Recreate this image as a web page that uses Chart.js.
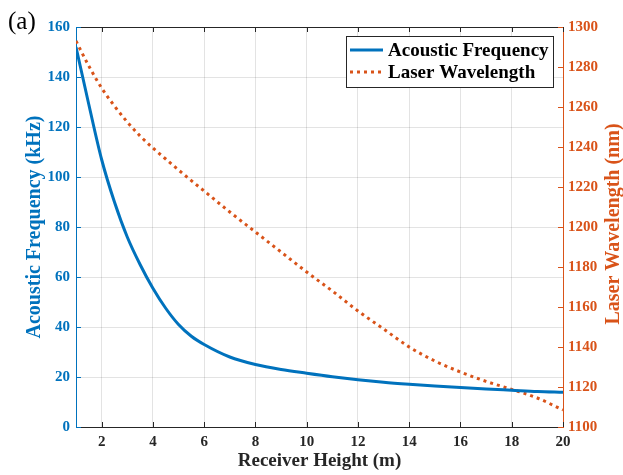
<!DOCTYPE html>
<html>
<head>
<meta charset="utf-8">
<script src="https://cdn.jsdelivr.net/npm/chart.js"></script>
<style>
  html, body { margin: 0; padding: 0; background: #fff; }
</style>
</head>
<body>
<canvas id="chart" width="623" height="475"></canvas>
<script>
// receiver heights (m) and the two series
const heights = [1, 1.5, 2, 2.5, 3, 3.5, 4, 4.5, 5, 5.5, 6, 7, 8, 9, 10, 11, 12, 13, 14, 15, 16, 17, 18, 19, 20];
const acousticFreq = [152, 129, 107, 90, 76, 65, 55.5, 47.5, 41, 36.3, 33, 28, 25, 23, 21.5, 20.1, 18.9, 17.9, 17.1, 16.4, 15.8, 15.2, 14.7, 14.2, 13.9];
const laserWavelength = [1293, 1280.5, 1269.5, 1260.5, 1252.5, 1245.5, 1239.5, 1234, 1228.5, 1223.2, 1218, 1207.5, 1197.5, 1187.5, 1177.5, 1168, 1158, 1149, 1140, 1133, 1127.5, 1122.8, 1118.8, 1114.5, 1108.5];
const xTicks = [2, 4, 6, 8, 10, 12, 14, 16, 18, 20];
const freqTicks = [0, 20, 40, 60, 80, 100, 120, 140, 160];
const waveTicks = [1100, 1120, 1140, 1160, 1180, 1200, 1220, 1240, 1260, 1280, 1300];

const BLUE = "#0072BD";
const ORANGE = "#D95319";
const DARK = "#262626";
const GRID = "rgba(38,38,38,0.13)";
const SERIF = "'Liberation Serif', 'Times New Roman', serif";

const toPoints = (ys) => heights.map((x, i) => ({ x: x, y: ys[i] }));

// inward ticks, top border, right title, legend box, panel label
const decorations = {
    id: "decorations",
    afterDraw(chart) {
        const ctx = chart.ctx;
        const a = chart.chartArea;
        const sx = chart.scales.x, sl = chart.scales.y, sr = chart.scales.y2;
        const len = 5;
        ctx.save();
        ctx.lineWidth = 1;
        ctx.strokeStyle = DARK;
        ctx.beginPath();
        ctx.moveTo(a.left, a.top + 0.5);
        ctx.lineTo(a.right, a.top + 0.5);
        xTicks.forEach((v) => {
            const px = Math.round(sx.getPixelForValue(v)) + 0.5;
            ctx.moveTo(px, a.bottom);
            ctx.lineTo(px, a.bottom - len);
            ctx.moveTo(px, a.top);
            ctx.lineTo(px, a.top + len);
        });
        ctx.stroke();
        ctx.strokeStyle = BLUE;
        ctx.beginPath();
        freqTicks.forEach((v) => {
            const py = Math.round(sl.getPixelForValue(v)) + 0.5;
            ctx.moveTo(a.left, py);
            ctx.lineTo(a.left + len, py);
        });
        ctx.stroke();
        ctx.strokeStyle = ORANGE;
        ctx.beginPath();
        waveTicks.forEach((v) => {
            const py = Math.round(sr.getPixelForValue(v)) + 0.5;
            ctx.moveTo(a.right, py);
            ctx.lineTo(a.right - len, py);
        });
        ctx.stroke();

        // right axis title, reading bottom to top
        ctx.save();
        ctx.translate(614, (a.top + a.bottom) / 2 - 3);
        ctx.rotate(-Math.PI / 2);
        ctx.fillStyle = ORANGE;
        ctx.font = "bold 20px " + SERIF;
        ctx.textAlign = "center";
        ctx.textBaseline = "middle";
        ctx.fillText("Laser Wavelength (nm)", 0, 0);
        ctx.restore();

        // legend
        const bx = 346, by = 36, bw = 207, bh = 51;
        ctx.fillStyle = "#fff";
        ctx.fillRect(bx, by, bw, bh);
        ctx.strokeStyle = DARK;
        ctx.strokeRect(bx + 0.5, by + 0.5, bw, bh);
        ctx.font = "bold 19px " + SERIF;
        ctx.textAlign = "left";
        ctx.textBaseline = "middle";
        chart.data.datasets.forEach((ds, i) => {
            const y = by + 14 + i * 22;
            ctx.strokeStyle = ds.borderColor;
            ctx.lineWidth = ds.borderWidth;
            ctx.setLineDash(ds.borderDash || []);
            ctx.beginPath();
            ctx.moveTo(bx + 4, y);
            ctx.lineTo(bx + 37, y);
            ctx.stroke();
            ctx.setLineDash([]);
            ctx.fillStyle = "#000";
            ctx.fillText(ds.label, bx + 42, y + 1);
        });

        // panel label
        ctx.fillStyle = "#000";
        ctx.font = "25px " + SERIF;
        ctx.textBaseline = "alphabetic";
        ctx.fillText("(a)", 8, 29);
        ctx.restore();
    }
};

new Chart(document.getElementById("chart"), {
    type: "line",
    data: {
        datasets: [
            {
                label: "Acoustic Frequency",
                data: toPoints(acousticFreq),
                yAxisID: "y",
                borderColor: BLUE,
                borderWidth: 3,
                cubicInterpolationMode: "monotone",
                pointRadius: 0,
                fill: false,
            }, {
                label: "Laser Wavelength",
                data: toPoints(laserWavelength),
                yAxisID: "y2",
                borderColor: ORANGE,
                borderWidth: 3,
                borderDash: [3, 4],
                borderCapStyle: "butt",
                cubicInterpolationMode: "monotone",
                pointRadius: 0,
                fill: false,
            }
        ]
    },
    options: {
        responsive: false,
        animation: false,
        layout: { padding: { top: 27, left: 0, right: 0, bottom: 0 } },
        plugins: {
            legend: { display: false },
            tooltip: { enabled: false },
        },
        scales: {
            x: {
                type: "linear",
                min: 1,
                max: 20,
                afterBuildTicks: (s) => { s.ticks = xTicks.map((v) => ({ value: v })); },
                afterFit: (s) => { s.height = 48; },
                grid: { color: GRID, drawTicks: false },
                border: { color: DARK },
                ticks: {
                    padding: 6,
                    color: DARK,
                    callback: (v) => String(v),
                    font: { family: SERIF, size: 15, weight: "bold" },
                },
                title: {
                    display: true,
                    text: "Receiver Height (m)",
                    color: DARK,
                    padding: { top: 0, bottom: 3 },
                    font: { family: SERIF, size: 19, weight: "bold" },
                },
            },
            y: {
                position: "left",
                min: 0,
                max: 160,
                afterBuildTicks: (s) => { s.ticks = freqTicks.map((v) => ({ value: v })); },
                afterFit: (s) => { s.width = 76; },
                grid: { color: GRID, drawTicks: false },
                border: { color: BLUE },
                ticks: {
                    padding: 6,
                    color: BLUE,
                    callback: (v) => String(v),
                    font: { family: SERIF, size: 15, weight: "bold" },
                },
                title: {
                    display: true,
                    text: "Acoustic Frequency (kHz)",
                    color: BLUE,
                    padding: { top: 23, bottom: 0 },
                    font: { family: SERIF, size: 20, weight: "bold" },
                },
            },
            y2: {
                position: "right",
                min: 1100,
                max: 1300,
                afterBuildTicks: (s) => { s.ticks = waveTicks.map((v) => ({ value: v })); },
                afterFit: (s) => { s.width = 60; },
                grid: { drawOnChartArea: false, drawTicks: false },
                border: { color: ORANGE },
                ticks: {
                    padding: 5,
                    color: ORANGE,
                    callback: (v) => String(v),
                    font: { family: SERIF, size: 15, weight: "bold" },
                },
            },
        },
    },
    plugins: [decorations],
});
</script>
</body>
</html>
